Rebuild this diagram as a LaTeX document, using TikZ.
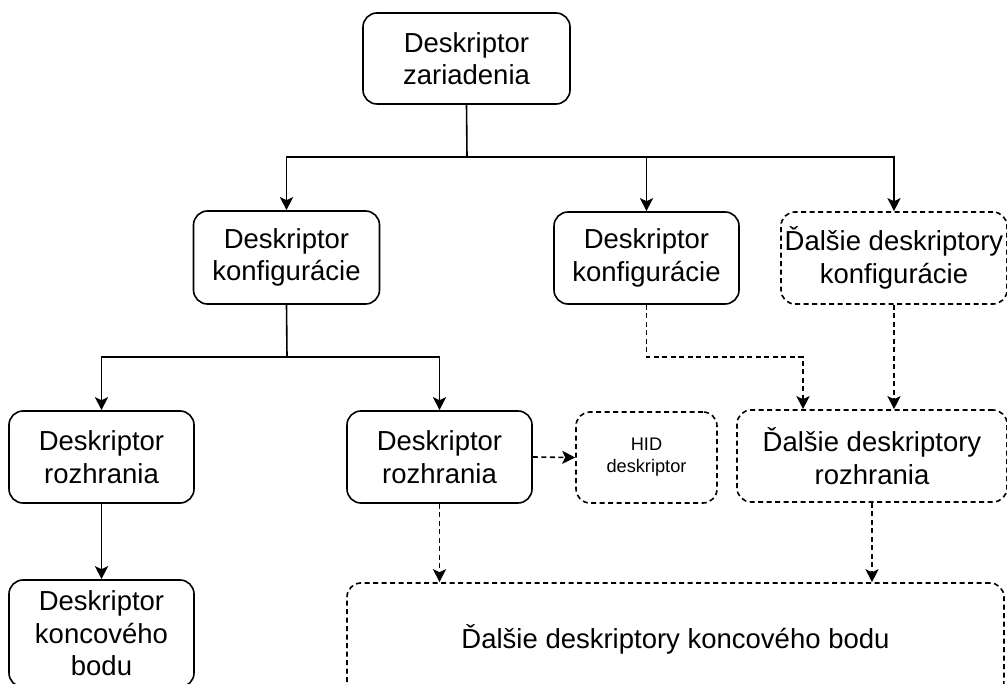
\documentclass[tikz,border=0pt]{standalone}
\usepackage{fontspec}
\setmainfont{Liberation Sans}
\usetikzlibrary{arrows.meta}
\begin{document}
\begin{tikzpicture}[x=1pt,y=-1pt,
  box/.style={draw,line width=1.6pt,rounded corners=14pt,align=center,
    font=\fontsize{27.5}{32.5}\selectfont,inner sep=0pt},
  dbox/.style={box,dash pattern=on 5pt off 3.5pt},
  arr/.style={line width=1.6pt,-{Stealth[length=13pt,width=13pt,inset=3pt]}},
  darr/.style={arr,dash pattern=on 5pt off 3.5pt},
  conn/.style={line width=1.6pt}]
\useasboundingbox (0,0) rectangle (1007,684);
\node[box,minimum width=207pt,minimum height=91pt] (top) at (466.5,58.5) {Deskriptor\\zariadenia};
\node[box,minimum width=186pt,minimum height=93pt] (c1) at (286.5,257.5) {Deskriptor\\konfigurácie};
\node[box,minimum width=185pt,minimum height=92pt] (c2) at (646.5,258) {Deskriptor\\konfigurácie};
\node[dbox,minimum width=226pt,minimum height=92pt] (c3) at (894,258) {Ďalšie deskriptory\\konfigurácie};
\node[box,minimum width=185pt,minimum height=92pt] (i1) at (101.5,457) {Deskriptor\\rozhrania};
\node[box,minimum width=185pt,minimum height=92pt] (i2) at (439.5,457) {Deskriptor\\rozhrania};
\node[dbox,minimum width=141pt,minimum height=91pt,font=\fontsize{18.2}{22}\selectfont] (hid) at (646.5,457.5) {HID\\deskriptor};
\node[dbox,minimum width=270pt,minimum height=92pt] (i3) at (872,456) {Ďalšie deskriptory\\rozhrania};
\node[box,minimum width=185pt,minimum height=107pt] (e1) at (101.5,633.5) {Deskriptor\\koncového\\bodu};
\node[dbox,minimum width=657pt,minimum height=112pt] (em) at (675.5,639) {Ďalšie deskriptory koncového bodu};
\coordinate (j1) at (467,157);
\coordinate (j2) at (287,357);
\coordinate (k2) at (803,357);
\draw[conn] (top.south) -- (j1);
\draw[arr] (j1) -| (c1.north);
\draw[arr] (j1) -| (c2.north);
\draw[arr] (j1) -| (c3.north);
\draw[conn] (c1.south) -- (j2);
\draw[arr] (j2) -| (i1.north);
\draw[arr] (j2) -| (i2.north);
\draw[arr] (i1.south) -- (e1.north);
\draw[darr] (i2.east) -- (hid.west);
\draw[darr] (i2.south) -- (i2.south |- em.north);
\draw[darr] (c2.south) |- (k2) -- (k2 |- i3.north);
\draw[darr] (c3.south) -- (c3.south |- i3.north);
\draw[darr] (i3.south) -- (i3.south |- em.north);
\end{tikzpicture}
\end{document}
